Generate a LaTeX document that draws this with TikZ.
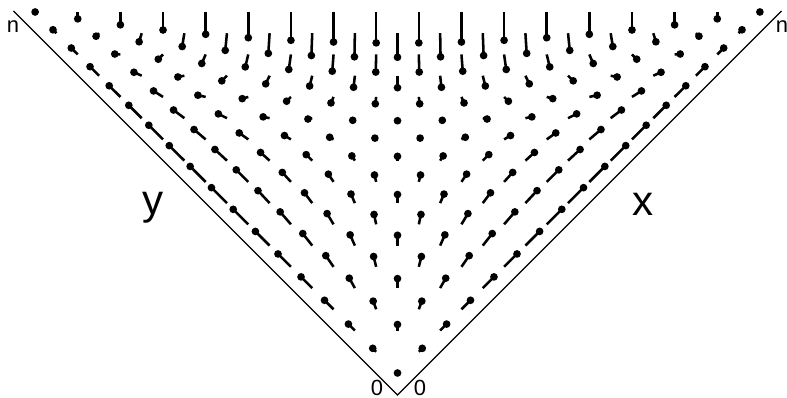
\documentclass[tikz,border=0pt]{standalone}
\usepackage{fontspec}
\setmainfont{Liberation Sans}
\usetikzlibrary{positioning}
\tikzstyle{edge} = [line width=0.7pt, draw=black]
\tikzstyle{stick} = [line width=1.45pt, draw=black]
\tikzstyle{dot} = [fill=black]
\tikzstyle{axislabel} = [font=\fontsize{24}{26}\selectfont, inner sep=0pt]
\tikzstyle{endlabel} = [font=\fontsize{12.5}{14}\selectfont, inner sep=0pt]

\newcommand{\nsize}{17}
\newcommand{\flow}{0.0101}

\begin{document}
\begin{tikzpicture}[x=0.02cm, y=0.02cm]
    \useasboundingbox (0,0) rectangle (787,398);
    % the two sides of the simplex
    \coordinate (bottom) at (397.5,3);
    \coordinate (topleft) at (13.5,387);
    \coordinate (topright) at (781.5,387);
    \draw [edge] (topleft) -- (bottom) -- (topright);

    \node (nleft) [endlabel] at (13,371) {n};
    \node (nright) [endlabel] at (782,371) {n};
    \node (zeroleft) [endlabel] at (377,10.5) {0};
    \node (zeroright) [endlabel] at (420,10.5) {0};
    \node (ylabel) [axislabel] at (153,190.5) {y};
    \node (xlabel) [axislabel] at (643,194) {x};

    % flow field on the grid points
    \begin{scope}[shift={(397.5,25)}, x={(0.4264cm,0.4248cm)}, y={(-0.4264cm,0.4248cm)}]
    \foreach \i in {0,...,\nsize}{
        \pgfmathtruncatemacro{\jmax}{\nsize-\i}
        \foreach \j in {0,...,\jmax}{
            \pgfmathsetmacro{\vx}{\flow*\i*(\nsize-\i-2*\j)}
            \pgfmathsetmacro{\vy}{\flow*\j*(\nsize-\j-2*\i)}
            \draw [stick] (\i,\j) -- ++(\vx,\vy);
            \fill [dot] (\i,\j) ++(\vx,\vy) circle [radius=0.077cm];
        }
    }
    \end{scope}
\end{tikzpicture}
\end{document}
